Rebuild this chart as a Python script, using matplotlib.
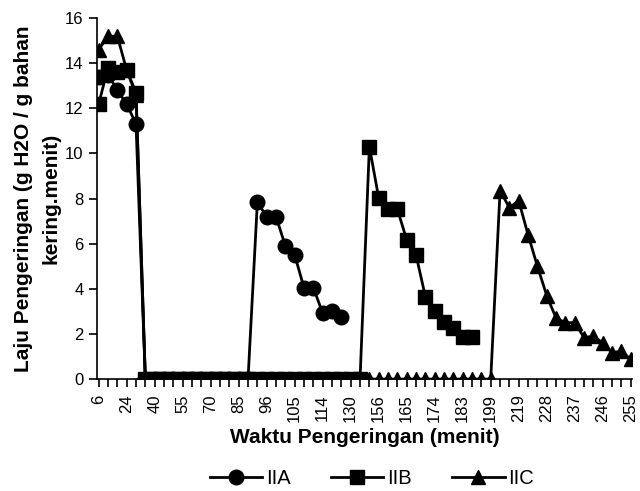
import matplotlib
matplotlib.use("Agg")
import matplotlib.pyplot as plt
import numpy as np

plt.rcParams['font.family'] = ['Liberation Sans', 'DejaVu Sans']

# x axis: 58 categories, only every third one labelled
n_cat = 58
tick_labels = ['6', '24', '40', '55', '70', '85', '96', '105', '114', '130',
               '156', '165', '174', '183', '199', '219', '228', '237', '246', '255']

# series (index = category position)
iia = ([13.4, 13.5, 12.8, 12.2, 11.3] + [0.0] * 12 +
       [7.84, 7.2, 7.2, 5.9, 5.5, 4.04, 4.04, 2.93, 3.0, 2.76])
iib = ([12.2, 13.8, 13.6, 13.7, 12.7] + [0.0] * 24 +
       [10.3, 8.03, 7.53, 7.53, 6.17, 5.5, 3.65, 3.0, 2.54, 2.25, 1.88, 1.88])
iic = ([14.6, 15.2, 15.2, 13.7, 12.6] + [0.0] * 38 +
       [8.35, 7.6, 7.9, 6.4, 5.0, 3.7, 2.7, 2.5, 2.5, 1.84, 1.9, 1.6, 1.17, 1.24, 0.87])

fig, ax = plt.subplots(figsize=(6.4, 4.91), dpi=100)
fig.subplots_adjust(left=0.152, right=0.987, top=0.963, bottom=0.228)

style = dict(color='black', linewidth=2.0, markersize=10.5)
ax.plot(np.arange(len(iia)), iia, marker='o', label='IIA', **style)
ax.plot(np.arange(len(iib)), iib, marker='s', label='IIB', **style)
ax.plot(np.arange(len(iic)), iic, marker='^', label='IIC', **style)

ax.set_xlim(-0.15, n_cat - 1 + 0.1)
ax.set_ylim(0, 16)
ax.set_yticks(np.arange(0, 17, 2))
ax.set_xticks(np.arange(n_cat), minor=True)
ax.set_xticks(np.arange(0, n_cat, 3))
ax.set_xticklabels(tick_labels, rotation=90)
ax.tick_params(axis='both', which='both', direction='out', width=1.2, labelsize=12)
ax.tick_params(axis='x', which='both', length=6, pad=5)
ax.tick_params(axis='y', length=6, pad=4)

for s in ['top', 'right']:
    ax.spines[s].set_visible(False)
for s in ['left', 'bottom']:
    ax.spines[s].set_linewidth(1.2)

ax.set_xlabel('Waktu Pengeringan (menit)', fontsize=15, fontweight='bold', labelpad=4)
ax.set_ylabel('Laju Pengeringan (g H2O / g bahan\nkering.menit)', fontsize=15,
              fontweight='bold', labelpad=3, linespacing=1.6)

fig.legend(*ax.get_legend_handles_labels(), loc='center',
           bbox_to_anchor=(372 / 640, 1 - 479 / 491), ncol=3, frameon=False,
           fontsize=14.5, handlelength=2.6, columnspacing=2.0, handletextpad=0.2,
           borderaxespad=0, borderpad=0)

fig.savefig('out.png', dpi=100)
